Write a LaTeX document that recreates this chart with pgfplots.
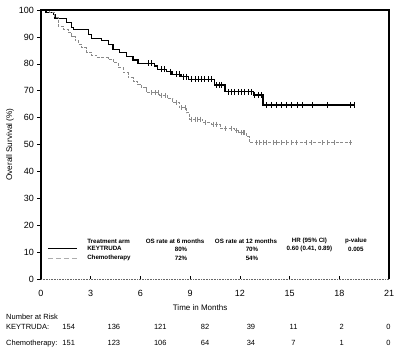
\documentclass[border=0pt]{standalone}
\usepackage{pgfplots}
\pgfplotsset{compat=1.18}
\usepackage{fontspec}
\setmainfont{Liberation Sans}
\definecolor{chemo}{HTML}{8A8A8A}
\begin{document}
\begin{tikzpicture}
\begin{axis}[
  at={(0,0)}, anchor=south west,
  scale only axis, width=348pt, height=269pt,
  xmin=0, xmax=21, ymin=0, ymax=100,
  xtick={0,3,...,21}, ytick={0,10,...,100},
  tick pos=left,
  axis line style={draw=none},
  tick align=outside, major tick length=3.5pt,
  tick style={black, line width=0.6pt},
  xtick style={yshift=3.5pt},
  ticklabel style={font=\fontsize{9}{10}\selectfont},
  xticklabel style={yshift=-4pt},
  /pgf/number format/assume math mode=true,
  clip=false,
]
% KEYTRUDA
\addplot[const plot mark left, black, line width=1.2pt] table {
0 100
0.3 99.2
0.74 98.4
0.84 96.8
1.55 95.5
1.85 93.4
1.95 92.8
2.85 91
3.05 89.5
3.65 88.7
4.05 87.2
4.35 85.4
4.75 84.1
5.15 82.6
5.55 81.4
5.85 80.2
6.85 79.2
7.05 78
7.55 77
7.9 76.1
8.45 75.2
8.9 74.2
10.45 72.1
11.1 69.6
12.8 68.4
13.4 64.7
18.95 64.7
};
\addplot[only marks, mark=|, mark size=3pt, black, mark options={line width=0.8pt}] table {
6.48 80.2
6.68 80.2
7.28 78
7.42 78
7.78 77
8.18 76.1
8.35 76.1
8.6 75.2
8.79 75.2
9.09 74.2
9.29 74.2
9.5 74.2
9.7 74.2
9.85 74.2
10.1 74.2
10.3 74.2
10.6 72.1
10.75 72.1
10.9 72.1
11.3 69.6
11.5 69.6
11.7 69.6
11.9 69.6
12.1 69.6
12.3 69.6
12.5 69.6
12.7 69.6
12.9 68.4
13.1 68.4
13.3 68.4
13.6 64.7
13.9 64.7
14.2 64.7
14.5 64.7
14.8 64.7
15.1 64.7
15.5 64.7
15.8 64.7
16.4 64.7
17.3 64.7
18.65 64.7
18.9 64.7
};
% Chemotherapy
\addplot[const plot mark left, chemo, line width=0.9pt, dash pattern=on 3pt off 1.5pt] table {
0 100
0.54 99
0.84 97.2
1.05 94
1.35 92.8
1.65 91.6
1.85 90.3
2.05 88.5
2.25 87.2
2.45 86
2.75 84.4
3.05 83.2
3.35 82.3
4.05 81.7
4.35 80.4
4.65 78.6
4.95 76.7
5.25 74.8
5.55 73.6
5.85 72.4
6.05 71.1
6.35 69.3
7.15 68.3
7.65 67
7.95 65.5
8.35 63.7
8.75 61.8
8.95 59.4
9.75 58.1
10.3 57.6
10.8 56
11.65 55.1
11.9 54.4
12.4 52.9
12.6 50.7
18.75 50.7
};
\addplot[only marks, mark=|, mark size=2.5pt, chemo, mark options={solid, line width=0.8pt}] table {
6.68 69.3
6.88 69.3
7.08 69.3
7.28 68.3
7.48 68.3
8.19 65.5
8.49 63.7
8.69 63.7
9.09 59.4
9.29 59.4
9.45 59.4
9.6 59.4
9.9 58.1
10.4 57.6
10.6 57.6
11.1 56
11.5 56
11.8 55.1
12.1 54.4
12.2 54.4
12.3 54.4
13.0 50.7
13.2 50.7
13.4 50.7
13.6 50.7
14.0 50.7
14.2 50.7
14.5 50.7
14.8 50.7
15.1 50.7
15.4 50.7
16.0 50.7
16.3 50.7
17.0 50.7
17.3 50.7
17.7 50.7
18.65 50.7
};
% axis frame
\draw[black, line width=1.2pt] (rel axis cs:0,0) -- (rel axis cs:0,1) -- (rel axis cs:1,1) -- (rel axis cs:1,0);
\draw[black!60, line width=0.6pt, densely dotted] (rel axis cs:0,0) -- (rel axis cs:1,0);
% labels
\node[rotate=90, font=\fontsize{8.2}{9}\selectfont] at (axis cs:-1.87,50) {Overall Survival (\%)};
\node[font=\fontsize{8}{9}\selectfont] at (axis cs:9.6,-10.8) {Time in Months};
% in-plot legend table
\draw[black, line width=1.2pt] (axis cs:0.42,11.2) -- (axis cs:2.17,11.2);
\draw[chemo!70, line width=0.9pt, dash pattern=on 5pt off 3pt] (axis cs:0.42,7.8) -- (axis cs:2.17,7.8);
\begin{scope}[every node/.style={font=\bfseries\fontsize{6.2}{7}\selectfont, inner sep=0pt}]
\node[anchor=west] at (axis cs:2.78,14.1) {Treatment arm};
\node[anchor=west] at (axis cs:2.78,11.2) {KEYTRUDA};
\node[anchor=west] at (axis cs:2.78,7.8) {Chemotherapy};
\node at (axis cs:8.09,14.1) {OS rate at 6 months};
\node at (axis cs:8.45,11.2) {80\%};
\node at (axis cs:8.45,7.8) {72\%};
\node at (axis cs:12.37,14.1) {OS rate at 12 months};
\node at (axis cs:12.73,11.2) {70\%};
\node at (axis cs:12.73,7.8) {54\%};
\node at (axis cs:16.2,14.1) {HR (95\% CI)};
\node at (axis cs:16.2,11.2) {0.60 (0.41, 0.89)};
\node at (axis cs:19.0,14.1) {p-value};
\node at (axis cs:19.0,11.2) {0.005};
\end{scope}
% number at risk
\begin{scope}[every node/.style={font=\fontsize{7.5}{8}\selectfont, inner sep=0pt}]
\node[anchor=west] at (axis cs:-2.11,-14) {Number at Risk};
\node[anchor=west] at (axis cs:-2.11,-17.7) {KEYTRUDA:};
\node[anchor=west] at (axis cs:-2.11,-23.9) {Chemotherapy:};
\node at (axis cs:1.67,-17.7) {154};
\node at (axis cs:4.4,-17.7) {136};
\node at (axis cs:7.2,-17.7) {121};
\node at (axis cs:9.9,-17.7) {82};
\node at (axis cs:12.67,-17.7) {39};
\node at (axis cs:15.24,-17.7) {11};
\node at (axis cs:18.15,-17.7) {2};
\node at (axis cs:20.96,-17.7) {0};
\node at (axis cs:1.67,-23.9) {151};
\node at (axis cs:4.4,-23.9) {123};
\node at (axis cs:7.2,-23.9) {106};
\node at (axis cs:9.9,-23.9) {64};
\node at (axis cs:12.67,-23.9) {34};
\node at (axis cs:15.24,-23.9) {7};
\node at (axis cs:18.15,-23.9) {1};
\node at (axis cs:20.96,-23.9) {0};
\end{scope}
\end{axis}
\pgfresetboundingbox
\path[use as bounding box] ([xshift=-41pt,yshift=-75pt]current axis.south west) rectangle ([xshift=11pt,yshift=10pt]current axis.north east);
\end{tikzpicture}
\end{document}
